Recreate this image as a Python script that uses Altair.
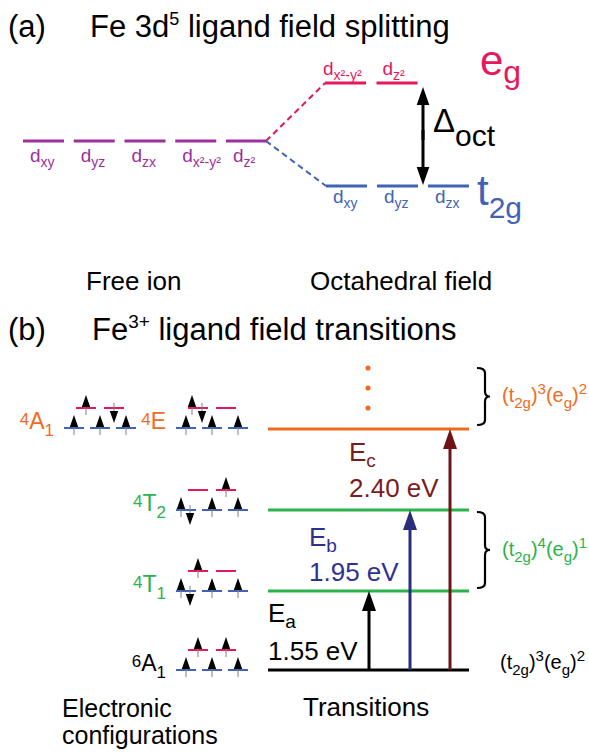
import altair as alt
import pandas as pd

# ---------------- content ----------------
free_ion_orbitals = ["xy", "yz", "zx", "x²-y²", "z²"]
eg_orbitals = ["x²-y²", "z²"]
t2g_orbitals = ["xy", "yz", "zx"]

state_mult = ["4", "4", "4", "4", "6"]
state_sym = ["A", "E", "T", "T", "A"]
state_sub = ["1", "", "2", "1", "1"]
# spin occupation of t2g (3 orbitals) and eg (2 orbitals): u = up, d = down
state_t2g = [["u", "u", "u"], ["u", "u", "u"], ["ud", "u", "u"], ["ud", "u", "u"], ["u", "u", "u"]]
state_eg = [["u", "d"], ["ud", ""], ["", "u"], ["u", ""], ["u", "u"]]

trans_letter = ["a", "b", "c"]
trans_energy = [1.55, 1.95, 2.40]
trans_target = [3, 2, 1]          # 4T1, 4T2, 4E

group_t2g = ["3", "4", "3"]
group_eg = ["2", "1", "2"]

# ---------------- layout / style ----------------
FONT = "Liberation Sans"
PURPLE, RED, BLUE = "#9e2f9c", "#e6185c", "#4163b5"
ORANGE, GREEN = "#f26a21", "#2bb24c"
NAVY, MAROON = "#2b2c7c", "#6e1417"
state_color = [ORANGE, ORANGE, GREEN, GREEN, "black"]
state_y = [428, 428, 510, 591, 670]
state_base = [64, 176, 176, 176, 176]
trans_x = [369, 410, 450]
trans_arrow_color = ["black", NAVY, MAROON]
trans_text_color = ["black", "#2e3192", "#7b1c1c"]
trans_E_y = [622, 546, 461]
trans_num_y = [660, 581, 497]
group_y = [396, 550, 663]
group_x = [502, 502, 500]
group_color = [ORANGE, GREEN, "black"]
brace_span = [(368, 425), (512, 588)]

AW = {'(': 333, ')': 333, 't': 278, 'g': 556, 'e': 556, 'E': 667, 'A': 667, 'T': 611,
      'F': 611, ' ': 278, 'x': 500, 'y': 500, 'z': 500, 'c': 500, 'i': 222, 'l': 222,
      'f': 278, 'r': 333, 's': 500, '-': 333, '²': 333, '.': 278, 'V': 667, '+': 584,
      'Δ': 668, 'b': 556, 'a': 556, 'o': 556, 'n': 556, 'd': 556, 'p': 556}


def tw(s, size):
    return sum(AW.get(ch, 556) for ch in s) * size / 1000.0


texts = []


def add_run(parts, x, y, color, sizes, right=False):
    main, small, dsub, dsup = sizes
    total = sum(tw(t, main if r == "n" else small) for t, r in parts)
    cx = x - total if right else x
    for t, r in parts:
        s = main if r == "n" else small
        dy = 0 if r == "n" else (dsub if r == "sub" else -dsup)
        lead = len(t) - len(t.lstrip(" "))
        cx += tw(" " * lead, s)
        t = t.lstrip(" ")
        if t:
            texts.append(dict(x=cx, y=y + dy, text=t, size=s, color=color))
        cx += tw(t, s)


levels, dashes, shafts, heads, dots, braces = [], [], [], [], [], []

UP = "M0,-1L-0.7,1L0.7,1Z"
DOWN = "M0,1L-0.7,-1L0.7,-1Z"


def arrow_up(x, tip, base, color, w, head):
    shafts.append(dict(x=x, y=base, y2=tip + head - 2, color=color, w=w))
    heads.append(dict(x=x, y=tip + head / 2, shape=UP, size=head * head, color=color))


def arrow_down(x, tip, base, color, w, head):
    shafts.append(dict(x=x, y=base, y2=tip - head + 2, color=color, w=w))
    heads.append(dict(x=x, y=tip - head / 2, shape=DOWN, size=head * head, color=color))


# titles
add_run([("(a)", "n")], 8, 37, "black", (31, 18, 0, 12))
add_run([("Fe 3d", "n"), ("5", "sup"), (" ligand field splitting", "n")], 90, 37, "black", (31, 18, 0, 12))
add_run([("(b)", "n")], 8, 340, "black", (31, 18, 0, 12))
add_run([("Fe", "n"), ("3+", "sup"), (" ligand field transitions", "n")], 92, 340, "black", (31, 19, 0, 12))

# (a) free ion levels
for i, orb in enumerate(free_ion_orbitals):
    x0 = 23 + i * 50.75
    levels.append(dict(x=x0, x2=x0 + 41, y=141, color=PURPLE, w=3))
    add_run([("d", "n"), (orb, "sub")], x0 + 7, 162, PURPLE, (19, 14, 5, 0))
for i, orb in enumerate(eg_orbitals):
    x0 = 325 + i * 51.5
    levels.append(dict(x=x0, x2=x0 + 41, y=83, color=RED, w=3))
    add_run([("d", "n"), (orb, "sub")], x0 - 2 if i == 0 else x0 + 6, 75, RED, (19, 14, 5, 0))
for i, orb in enumerate(t2g_orbitals):
    x0 = 326 + i * 51
    levels.append(dict(x=x0, x2=x0 + 41, y=186, color=BLUE, w=3))
    add_run([("d", "n"), (orb, "sub")], x0 + 7, 203, BLUE, (19, 14, 5, 0))
dashes.append(dict(x=266, y=141, x2=325, y2=83, color=RED))
dashes.append(dict(x=266, y=141, x2=326, y2=186, color=BLUE))
add_run([("e", "n"), ("g", "sub")], 480, 75, RED, (42, 32, 8, 0))
add_run([("t", "n"), ("2g", "sub")], 477, 205, BLUE, (42, 30, 13, 0))
add_run([("Δ", "n"), ("oct", "sub")], 433, 132, "black", (33, 30, 14, 0))
arrow_up(423, 87, 140, "black", 3, 18)
arrow_down(423, 185, 130, "black", 3, 18)
add_run([("Free ion", "n")], 86, 290, "black", (26, 18, 0, 0))
add_run([("Octahedral field", "n")], 310, 290, "black", (26, 18, 0, 0))

# (b) electronic configurations
for s in range(5):
    L, b, col = state_y[s], state_base[s], state_color[s]
    add_run([(state_mult[s], "sup"), (state_sym[s], "n"), (state_sub[s], "sub")],
            b - 10, L + 1, col, (23, 17, 7, 4), right=True)
    for j in range(3):
        levels.append(dict(x=b + 26 * j, x2=b + 26 * j + 20, y=L, color=BLUE, w=2))
        c = b + 10 + 26 * j
        occ = state_t2g[s][j]
        offs = {"u": c - 5, "d": c + 4} if len(occ) == 2 else {occ: c} if occ else {}
        for spin, ax in offs.items():
            if spin == "u":
                arrow_up(ax, L - 13, L + 7, "#808080", 1, 12)
            else:
                arrow_down(ax, L + 15, L - 5, "#808080", 1, 12)
    Le = L - 20
    for j in range(2):
        levels.append(dict(x=b + 12 + 28 * j, x2=b + 12 + 28 * j + 20, y=Le, color=RED, w=2))
        c = b + 22 + 28 * j
        occ = state_eg[s][j]
        offs = {"u": c - 6, "d": c + 4} if len(occ) == 2 else {occ: c} if occ else {}
        for spin, ax in offs.items():
            if spin == "u":
                arrow_up(ax, Le - 13, Le + 7, "#808080", 1, 12)
            else:
                arrow_down(ax, Le + 15, Le - 5, "#808080", 1, 12)

# (b) transition levels
for s in range(1, 5):
    levels.append(dict(x=268, x2=469, y=state_y[s] + (1 if s == 1 else 0), color=state_color[s], w=3))
for k in range(3):
    tgt = state_y[trans_target[k]] + (1 if trans_target[k] == 1 else 0)
    arrow_up(trans_x[k], tgt, 670, trans_arrow_color[k], 3, 20)
    lx = trans_x[k] - 101
    add_run([("E", "n"), (trans_letter[k], "sub")], lx, trans_E_y[k], trans_text_color[k], (26, 19, 6, 0))
    add_run([(f"{trans_energy[k]:.2f} eV", "n")], lx, trans_num_y[k], trans_text_color[k], (26, 19, 6, 0))

for yy in (368, 388, 408):
    dots.append(dict(x=368, y=yy, color=ORANGE))


def brace_path(half, hook=8.0, tip=5.0, r=5.0):
    h, t, k = hook / half, tip / half, r / half
    return (f"M{-h:.3f},-1Q0,-1 0,{-1 + k:.3f}L0,{-k:.3f}Q0,0 {t:.3f},0"
            f"Q0,0 0,{k:.3f}L0,{1 - k:.3f}Q0,1 {-h:.3f},1")


for (y0, y1) in brace_span:
    half = (y1 - y0) / 2
    braces.append(dict(x=485, y=(y0 + y1) / 2, shape=brace_path(half), size=(2 * half) ** 2))

for g in range(3):
    add_run([("(t", "n"), ("2g", "sub"), (")", "n"), (group_t2g[g], "sup"),
             ("(e", "n"), ("g", "sub"), (")", "n"), (group_eg[g], "sup")],
            group_x[g], group_y[g] + 6, group_color[g], (20, 15, 6, 8))

add_run([("Electronic", "n")], 62, 717, "black", (25, 18, 0, 0))
add_run([("configurations", "n")], 62, 744, "black", (25, 18, 0, 0))
add_run([("Transitions", "n")], 303, 716, "black", (26, 18, 0, 0))

# ---------------- chart ----------------
xs = alt.Scale(domain=[0, 589], nice=False, zero=False)
ys = alt.Scale(domain=[0, 752], nice=False, zero=False, reverse=True)
X = lambda f="x": alt.X(f"{f}:Q", scale=xs, axis=None)
Y = lambda f="y": alt.Y(f"{f}:Q", scale=ys, axis=None)
C = alt.Color("color:N", scale=None)

lv = alt.Chart(pd.DataFrame(levels)).mark_rule().encode(
    x=X(), x2="x2:Q", y=Y(), color=C, strokeWidth=alt.StrokeWidth("w:Q", scale=None))
ds = alt.Chart(pd.DataFrame(dashes)).mark_rule(strokeDash=[6, 4], strokeWidth=2).encode(
    x=X(), x2="x2:Q", y=Y(), y2="y2:Q", color=C)
sh = alt.Chart(pd.DataFrame(shafts)).mark_rule().encode(
    x=X(), y=Y(), y2="y2:Q", color=C, strokeWidth=alt.StrokeWidth("w:Q", scale=None))
hd_df = pd.DataFrame(heads)
hd_df["fillc"] = hd_df["color"].where(hd_df["color"] != "#808080", "black")
hd = alt.Chart(hd_df).mark_point(filled=True, opacity=1, strokeWidth=0).encode(
    x=X(), y=Y(), shape=alt.Shape("shape:N", scale=None),
    size=alt.Size("size:Q", scale=None), color=alt.Color("fillc:N", scale=None))
br = alt.Chart(pd.DataFrame(braces)).mark_point(filled=False, opacity=1, strokeWidth=2.2, color="black").encode(
    x=X(), y=Y(), shape=alt.Shape("shape:N", scale=None), size=alt.Size("size:Q", scale=None))
dt = alt.Chart(pd.DataFrame(dots)).mark_circle(size=26, opacity=1).encode(x=X(), y=Y(), color=C)
tx = alt.Chart(pd.DataFrame(texts)).mark_text(align="left", baseline="alphabetic", font=FONT).encode(
    x=X(), y=Y(), text="text:N", size=alt.Size("size:Q", scale=None), color=C)

chart = alt.layer(lv, ds, sh, hd, br, dt, tx).properties(
    width=589, height=752, padding=0, autosize="none", background="white"
).configure_view(stroke=None)

chart.save("out.html", embed_options={"renderer": "svg", "actions": False})
